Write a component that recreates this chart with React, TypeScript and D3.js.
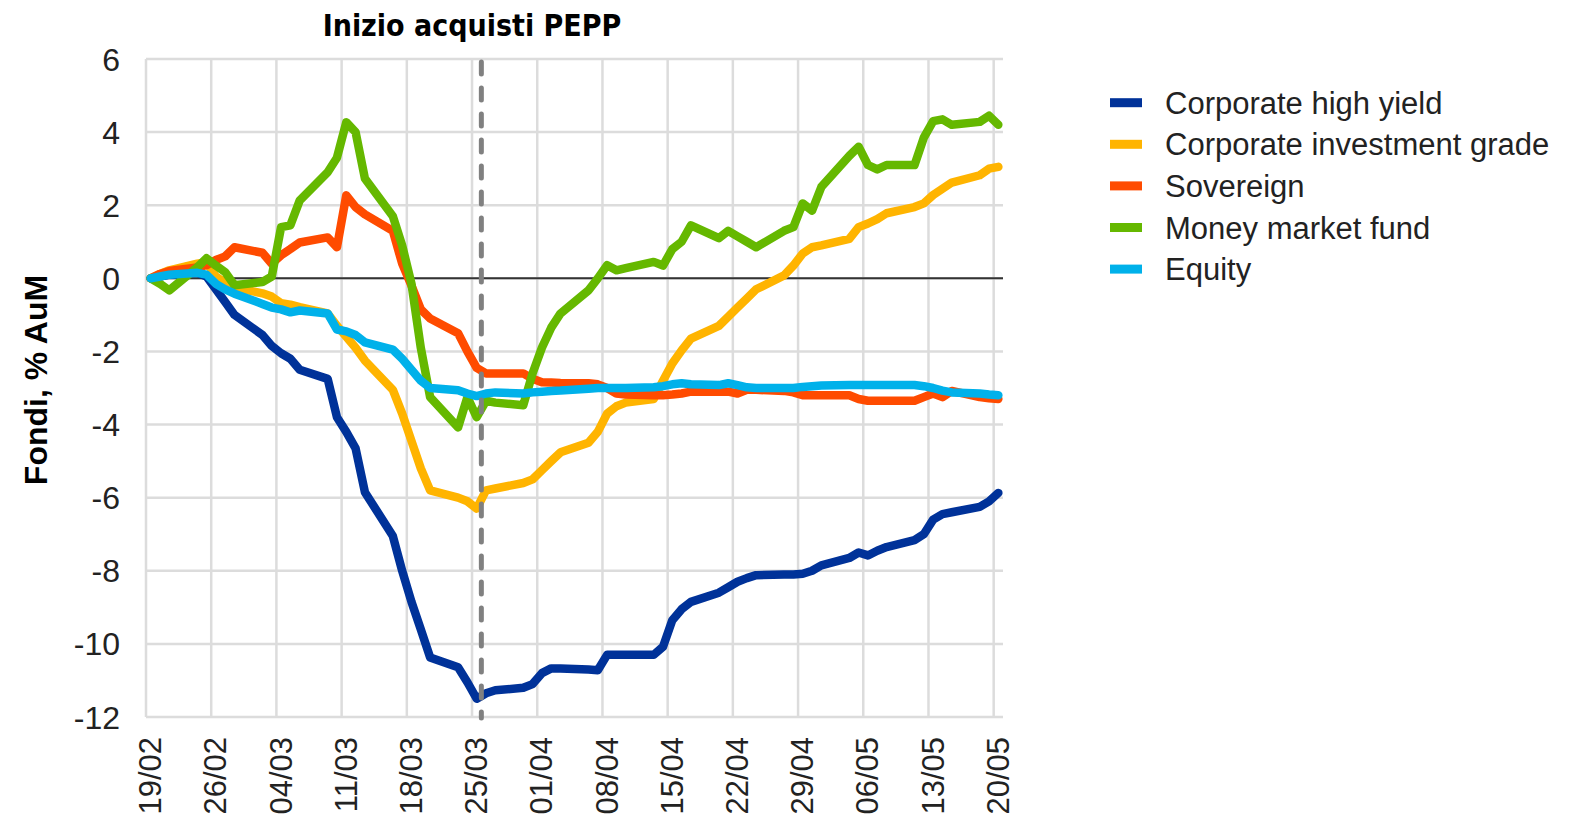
import React from "react";
import * as d3 from "d3";

const DATES = [
  "2020-02-19","2020-02-20","2020-02-21","2020-02-24","2020-02-25","2020-02-26","2020-02-27","2020-02-28",
  "2020-03-02","2020-03-03","2020-03-04","2020-03-05","2020-03-06",
  "2020-03-09","2020-03-10","2020-03-11","2020-03-12","2020-03-13",
  "2020-03-16","2020-03-17","2020-03-18","2020-03-19","2020-03-20",
  "2020-03-23","2020-03-24","2020-03-25","2020-03-26","2020-03-27",
  "2020-03-30","2020-03-31","2020-04-01","2020-04-02","2020-04-03",
  "2020-04-06","2020-04-07","2020-04-08","2020-04-09","2020-04-10",
  "2020-04-13","2020-04-14","2020-04-15","2020-04-16","2020-04-17",
  "2020-04-20","2020-04-21","2020-04-22","2020-04-23","2020-04-24",
  "2020-04-27","2020-04-28","2020-04-29","2020-04-30","2020-05-01",
  "2020-05-04","2020-05-05","2020-05-06","2020-05-07","2020-05-08",
  "2020-05-11","2020-05-12","2020-05-13","2020-05-14","2020-05-15",
  "2020-05-18","2020-05-19","2020-05-20",
];

const HIGH_YIELD = [
  0, 0.05, 0.1, 0.15, 0.05, -0.3, -0.65, -1.0,
  -1.55, -1.85, -2.05, -2.2, -2.5,
  -2.75, -3.8, -4.2, -4.65, -5.85,
  -7.05, -8.0, -8.85, -9.6, -10.37,
  -10.64, -11.05, -11.5, -11.35, -11.27,
  -11.2, -11.1, -10.8, -10.67, -10.67,
  -10.7, -10.72, -10.3, -10.3, -10.3,
  -10.3, -10.08, -9.35, -9.05, -8.85,
  -8.6, -8.45, -8.3, -8.2, -8.12,
  -8.1, -8.1, -8.08, -8.0, -7.85,
  -7.65, -7.5, -7.58, -7.45, -7.35,
  -7.16, -7.0, -6.6, -6.45, -6.4,
  -6.25, -6.1, -5.87,
];

const INVESTMENT_GRADE = [
  0, 0.12, 0.22, 0.4, 0.44, 0.05, -0.12, -0.25,
  -0.41, -0.5, -0.68, -0.72, -0.79,
  -0.96, -1.3, -1.6, -1.9, -2.25,
  -3.05, -3.7, -4.45, -5.2, -5.8,
  -6.0, -6.1, -6.3, -5.8, -5.75,
  -5.6, -5.5, -5.25, -5.0, -4.76,
  -4.5, -4.2, -3.7, -3.5, -3.4,
  -3.3, -2.8, -2.33, -1.97, -1.65,
  -1.3, -1.05, -0.8, -0.55, -0.3,
  0.08, 0.35, 0.68, 0.85, 0.9,
  1.08, 1.4, 1.5, 1.62, 1.78,
  1.95, 2.05, 2.28, 2.45, 2.62,
  2.82, 3.0, 3.05,
];

const SOVEREIGN = [
  0, 0.12, 0.2, 0.3, 0.36, 0.5, 0.6, 0.85,
  0.7, 0.4, 0.63, 0.8, 0.98,
  1.12, 0.85, 2.27, 1.95, 1.75,
  1.3, 0.4, -0.2, -0.85, -1.1,
  -1.5, -2.0, -2.45, -2.6, -2.6,
  -2.6, -2.75, -2.84, -2.85, -2.86,
  -2.87, -2.9, -3.0, -3.15, -3.18,
  -3.2, -3.2, -3.18, -3.15, -3.1,
  -3.1, -3.1, -3.15, -3.05, -3.05,
  -3.08, -3.12, -3.2, -3.2, -3.2,
  -3.2, -3.3, -3.35, -3.35, -3.35,
  -3.35, -3.25, -3.15, -3.25, -3.08,
  -3.25, -3.28, -3.3,
];

const MONEY_MARKET = [
  0, -0.15, -0.33, 0.3, 0.55, 0.35, 0.17, -0.19,
  -0.1, 0.05, 1.4, 1.45, 2.13,
  2.9, 3.3, 4.27, 4.0, 2.73,
  1.7, 0.9, -0.15, -1.9, -3.25,
  -4.08, -3.25, -3.8, -3.35, -3.4,
  -3.47, -2.6, -1.9, -1.35, -0.96,
  -0.33, 0.0, 0.36, 0.22, 0.28,
  0.45, 0.35, 0.8, 1.0, 1.45,
  1.1, 1.3, 1.15, 1.0, 0.85,
  1.3, 1.4, 2.05, 1.85, 2.5,
  3.35, 3.6, 3.1, 2.98, 3.1,
  3.1, 3.85, 4.3, 4.35, 4.2,
  4.28, 4.45, 4.2,
];

const EQUITY = [
  0, 0.05, 0.1, 0.15, 0.1, -0.15, -0.3, -0.42,
  -0.7, -0.8, -0.85, -0.93, -0.88,
  -0.96, -1.4, -1.45, -1.55, -1.75,
  -1.95, -2.2, -2.5, -2.8, -3.0,
  -3.06, -3.15, -3.22, -3.15, -3.12,
  -3.15, -3.12, -3.1, -3.08, -3.07,
  -3.02, -3.0, -3.0, -3.0, -3.0,
  -2.98, -2.95, -2.9, -2.87, -2.9,
  -2.92, -2.87, -2.92, -2.98, -3.0,
  -3.0, -3.0, -2.97, -2.95, -2.93,
  -2.92, -2.92, -2.92, -2.92, -2.92,
  -2.92, -2.95, -3.0, -3.07, -3.12,
  -3.15, -3.18, -3.2,
];

const SERIES_NAMES = [
  "Corporate high yield",
  "Corporate investment grade",
  "Sovereign",
  "Money market fund",
  "Equity",
];
const SERIES_COLORS = ["#003299", "#FFB400", "#FF4B00", "#65B800", "#00B1EA"];
const SERIES_VALUES = [HIGH_YIELD, INVESTMENT_GRADE, SOVEREIGN, MONEY_MARKET, EQUITY];

const TICK_DATES = [
  "2020-02-19","2020-02-26","2020-03-04","2020-03-11","2020-03-18","2020-03-25","2020-04-01",
  "2020-04-08","2020-04-15","2020-04-22","2020-04-29","2020-05-06","2020-05-13","2020-05-20",
];
const Y_TICKS = [-12, -10, -8, -6, -4, -2, 0, 2, 4, 6];
const PEPP_DATE = "2020-03-26";
const TITLE = "Inizio acquisti PEPP";
const Y_LABEL = "Fondi, % AuM";

const W = 1575;
const H = 816;
const M = { left: 146, right: 1003, top: 59, bottom: 717 };

export default function App() {
  const parse = d3.utcParse("%Y-%m-%d");
  const fmt = d3.utcFormat("%d/%m");
  const x = d3
    .scaleUtc()
    .domain([parse("2020-02-19")!, parse("2020-05-21")!])
    .range([M.left, M.right]);
  const y = d3.scaleLinear().domain([-12, 6]).range([M.bottom, M.top]);

  const dates = DATES.map((s) => d3.utcHour.offset(parse(s)!, 12));
  const line = d3
    .line<number>()
    .x((_, i) => x(dates[i]))
    .y((v) => y(v));

  const ticks = TICK_DATES.map((s) => parse(s)!);
  const peppX = x(parse(PEPP_DATE)!);
  const font = "'Liberation Sans', Arial, Helvetica, sans-serif";

  return (
    <svg
      width={W}
      height={H}
      style={{ position: "absolute", left: 0, top: 0, display: "block", background: "#fff" }}
    >
      {Y_TICKS.map((t) => (
        <line key={"h" + t} x1={M.left} x2={M.right} y1={y(t)} y2={y(t)} stroke="#dcdcdc" strokeWidth={2.5} />
      ))}
      {ticks.map((t, i) => (
        <line key={"v" + i} x1={x(t)} x2={x(t)} y1={M.top} y2={M.bottom} stroke="#dcdcdc" strokeWidth={2.5} />
      ))}
      <line x1={M.left} x2={M.right} y1={y(0)} y2={y(0)} stroke="#333" strokeWidth={2} />

      {SERIES_VALUES.map((vals, k) => (
        <path
          key={SERIES_NAMES[k]}
          d={line(vals) || ""}
          fill="none"
          stroke={SERIES_COLORS[k]}
          strokeWidth={8.5}
          strokeLinejoin="round"
          strokeLinecap="round"
        />
      ))}

      <line
        x1={peppX}
        x2={peppX}
        y1={M.top + 3}
        y2={M.bottom + 1}
        stroke="#808080"
        strokeWidth={5}
        strokeDasharray="12 14"
        strokeLinecap="round"
      />

      {Y_TICKS.map((t) => (
        <text
          key={"yl" + t}
          x={120}
          y={y(t)}
          dy="0.36em"
          textAnchor="end"
          fontFamily={font}
          fontSize={32}
          fill="#222"
        >
          {t}
        </text>
      ))}

      {ticks.map((t, i) => (
        <text
          key={"xl" + i}
          transform={`translate(${x(t) + 4},${737}) rotate(-90)`}
          dy="0.36em"
          textAnchor="end"
          fontFamily={font}
          fontSize={31}
          fill="#222"
        >
          {fmt(t)}
        </text>
      ))}

      <text
        x={472}
        y={36}
        textAnchor="middle"
        fontFamily="'DejaVu Sans Condensed', 'DejaVu Sans', sans-serif"
        fontWeight="bold"
        fontSize={30}
        style={{ fontStretch: "condensed" }}
        fill="#000"
      >
        {TITLE}
      </text>

      <text
        transform={`translate(35,380) rotate(-90)`}
        dy="0.36em"
        textAnchor="middle"
        fontFamily={font}
        fontWeight="bold"
        fontSize={32}
        fill="#000"
      >
        {Y_LABEL}
      </text>

      {SERIES_NAMES.map((name, k) => {
        const ly = 102.7 + k * 41.6;
        return (
          <g key={"lg" + k}>
            <rect x={1110} y={ly - 4.5} width={32} height={9} fill={SERIES_COLORS[k]} />
            <text x={1165} y={ly} dy="0.36em" fontFamily={font} fontSize={31} fill="#222">
              {name}
            </text>
          </g>
        );
      })}
    </svg>
  );
}
